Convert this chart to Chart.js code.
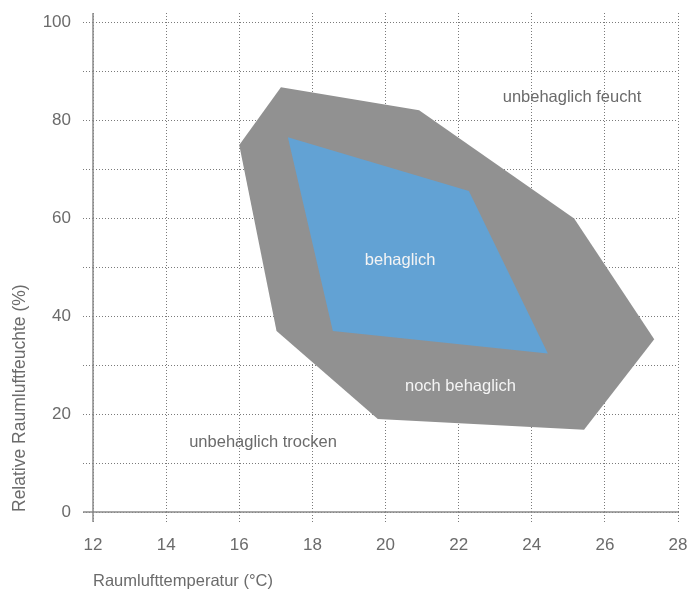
<!DOCTYPE html>
<html>
<head>
<meta charset="utf-8">
<script src="https://cdn.jsdelivr.net/npm/chart.js@4.4.0/dist/chart.umd.min.js"></script>
<style>
  html, body { margin: 0; padding: 0; background: #fff; }
  #wrap { width: 688px; height: 595px; }
</style>
</head>
<body>
<div id="wrap"><canvas id="comfort-chart"></canvas></div>
<script>
// Behaglichkeitsfeld: Temperatur (°C) gegen relative Feuchte (%)
const tolerableX = [16.0, 17.14, 20.92, 25.16, 27.35, 25.43, 19.79, 17.02];
const tolerableY = [75.0, 86.8, 82.1, 60.0, 35.3, 16.8, 19.0, 37.0];

const comfortX = [17.33, 22.28, 24.44, 18.56];
const comfortY = [76.6, 65.6, 32.4, 37.0];

const zoneLabels = ['unbehaglich feucht', 'behaglich', 'noch behaglich', 'unbehaglich trocken'];
const zoneLabelX = [25.1, 20.4, 22.05, 16.65];
const zoneLabelY = [84.8, 51.5, 25.7, 14.3];

const xTicks = [12, 14, 16, 18, 20, 22, 24, 26, 28];
const yTicks = [0, 10, 20, 30, 40, 50, 60, 70, 80, 90, 100];

const FONT = "'Liberation Sans', Arial, sans-serif";
const TEXT_GREY = '#6b6b6b';

function closedShape(xs, ys) {
    const pts = xs.map((x, i) => ({ x: x, y: ys[i] }));
    pts.push(pts[0]);
    return pts;
}

const zoneText = {
    id: 'zoneText',
    afterDatasetsDraw(chart) {
        const ctx = chart.ctx;
        const xs = chart.scales.x;
        const ys = chart.scales.y;
        ctx.save();
        // Achsenlinien
        ctx.strokeStyle = '#8a8a8a';
        ctx.lineWidth = 1.5;
        ctx.beginPath();
        ctx.moveTo(xs.getPixelForValue(12), chart.chartArea.top);
        ctx.lineTo(xs.getPixelForValue(12), ys.getPixelForValue(0) + 10);
        ctx.moveTo(xs.getPixelForValue(12) - 10, ys.getPixelForValue(0));
        ctx.lineTo(xs.getPixelForValue(28), ys.getPixelForValue(0));
        ctx.stroke();

        ctx.font = '16.5px ' + FONT;
        ctx.textAlign = 'center';
        ctx.textBaseline = 'middle';
        zoneLabels.forEach((txt, i) => {
            ctx.fillStyle = (i === 1 || i === 2) ? '#f4f4f4' : TEXT_GREY;
            ctx.fillText(txt, xs.getPixelForValue(zoneLabelX[i]), ys.getPixelForValue(zoneLabelY[i]));
        });
        ctx.restore();
    }
};

const ctx = document.getElementById('comfort-chart').getContext('2d');

// Filler zeichnet die Flächen in umgekehrter Reihenfolge: blau zuerst in der Liste,
// damit es über der grauen Fläche liegt
new Chart(ctx, {
    type: 'scatter',
    data: {
        datasets: [
            {
                label: 'behaglich',
                data: closedShape(comfortX, comfortY),
                showLine: true,
                fill: 'shape',
                backgroundColor: '#62a2d4',
                borderWidth: 0,
                pointRadius: 0,
                tension: 0
            },
            {
                label: 'noch behaglich',
                data: closedShape(tolerableX, tolerableY),
                showLine: true,
                fill: 'shape',
                backgroundColor: '#919191',
                borderWidth: 0,
                pointRadius: 0,
                tension: 0
            }
        ]
    },
    options: {
        responsive: true,
        maintainAspectRatio: false,
        animation: false,
        layout: {
            padding: { left: 0, right: 10, top: 13, bottom: 0 }
        },
        scales: {
            x: {
                type: 'linear',
                min: 12,
                max: 28,
                afterBuildTicks: function(scale) {
                    scale.ticks = xTicks.map(v => ({ value: v }));
                },
                afterFit: function(scale) {
                    scale.height = 83;
                    scale.paddingLeft = 0;
                    scale.paddingRight = 0;
                },
                grid: {
                    color: '#7a7a7a',
                    lineWidth: 1,
                    tickLength: 10,
                    tickBorderDash: [1, 2],
                    tickColor: '#7a7a7a'
                },
                border: { display: false, dash: [1, 2] },
                ticks: {
                    color: TEXT_GREY,
                    padding: 13,
                    maxRotation: 0,
                    font: { family: FONT, size: 17 }
                },
                title: {
                    display: true,
                    align: 'start',
                    text: 'Raumlufttemperatur (°C)',
                    color: TEXT_GREY,
                    font: { family: FONT, size: 16.5 },
                    padding: { top: 0, bottom: 4 }
                }
            },
            y: {
                type: 'linear',
                min: 0,
                max: 102,
                afterBuildTicks: function(scale) {
                    scale.ticks = yTicks.map(v => ({ value: v }));
                },
                afterFit: function(scale) {
                    scale.width = 93;
                    scale.paddingTop = 0;
                    scale.paddingBottom = 0;
                },
                grid: {
                    color: '#7a7a7a',
                    lineWidth: 1,
                    tickLength: 10,
                    tickBorderDash: [1, 2],
                    tickColor: '#7a7a7a'
                },
                border: { display: false, dash: [1, 2] },
                ticks: {
                    color: TEXT_GREY,
                    padding: 12,
                    font: { family: FONT, size: 17 },
                    callback: function(value) {
                        return value % 20 === 0 ? value : '';
                    }
                },
                title: {
                    display: true,
                    align: 'start',
                    text: 'Relative Raumluftfeuchte (%)',
                    color: TEXT_GREY,
                    font: { family: FONT, size: 17.5 },
                    padding: { top: 10, bottom: 0 }
                }
            }
        },
        plugins: {
            legend: { display: false },
            tooltip: { enabled: false }
        }
    },
    plugins: [zoneText]
});
</script>
</body>
</html>
